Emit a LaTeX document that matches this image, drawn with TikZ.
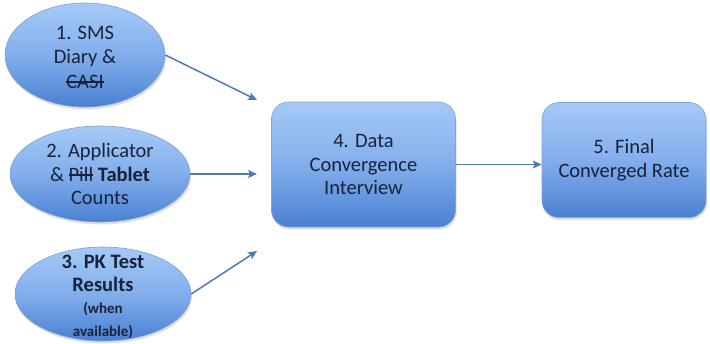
\documentclass[tikz,border=0pt]{standalone}
\usepackage{fontspec}
\setmainfont{Carlito}
\newsavebox{\strkbox}
\newcommand\strk[1]{\leavevmode\sbox{\strkbox}{#1}\rlap{\rule[0.27em]{\wd\strkbox}{0.07em}}\usebox{\strkbox}}
\usetikzlibrary{shapes.geometric,shadows,arrows.meta}
\definecolor{topblue}{HTML}{A6CAF7}
\definecolor{midblue}{HTML}{82AEEC}
\definecolor{botblue}{HTML}{4A80D2}
\definecolor{edgeblue}{HTML}{7FA3D4}
\definecolor{txtcol}{HTML}{18223A}
\definecolor{arrcol}{HTML}{4E79B4}
\tikzset{
  blob/.style={draw=edgeblue, line width=0.6pt, top color=topblue, bottom color=botblue, middle color=midblue,
    drop shadow={opacity=0.25, shadow xshift=1pt, shadow yshift=-2.5pt}},
  ell/.style={blob, ellipse, inner sep=0pt},
  boxnode/.style={blob, rectangle, rounded corners=17pt, inner sep=0pt},
  txt/.style={text=txtcol, align=center, font=\fontsize{20.5}{23.5}\selectfont},
  conn/.style={draw=arrcol, line width=1.5pt, -{Stealth[length=9pt,width=8pt,inset=2pt]}},
}
\begin{document}
\begin{tikzpicture}[x=1pt,y=-1pt]
\useasboundingbox (0,0) rectangle (710,343);
% ellipses
\node[ell, minimum width=160pt, minimum height=104pt] (e1) at (85,55) {};
\node[txt, font=\fontsize{20.5}{24.5}\selectfont] (t1) at (85,57) {1. SMS\\Diary \&\\\strk{CASI}};
\node[ell, minimum width=180pt, minimum height=96pt] (e2) at (100,174) {};
\node[txt] (t2) at (e2) {2. Applicator\\\& \strk{Pill} \textbf{Tablet}\\Counts};
\node[ell, minimum width=176pt, minimum height=94pt] (e3) at (103,294) {};
\node[txt] (t3) at (103,297) {\textbf{3. PK Test}\\\textbf{Results}\\[-2pt]{\fontsize{15}{19}\selectfont\textbf{(when}}\\{\fontsize{15}{19}\selectfont\textbf{available)}}};
% boxes
\node[boxnode, minimum width=184pt, minimum height=125pt] (b4) at (363.5,164.5) {};
\node[txt] (t4) at (b4) {4. Data\\Convergence\\Interview};
\node[boxnode, minimum width=164pt, minimum height=115pt] (b5) at (624,160) {};
\node[txt] (t5) at (b5) {5. Final\\Converged Rate};
% arrow ends
\coordinate (a1) at (257,100);
\coordinate (a2) at (257,174);
\coordinate (a3) at (257,251);
\draw[conn] (e1.east) -- (a1);
\draw[conn] (e2.east) -- (a2);
\draw[conn] (e3.east) -- (a3);
\draw[conn] (b4.east) -- (b5.west |- b4.east);
\end{tikzpicture}
\end{document}
